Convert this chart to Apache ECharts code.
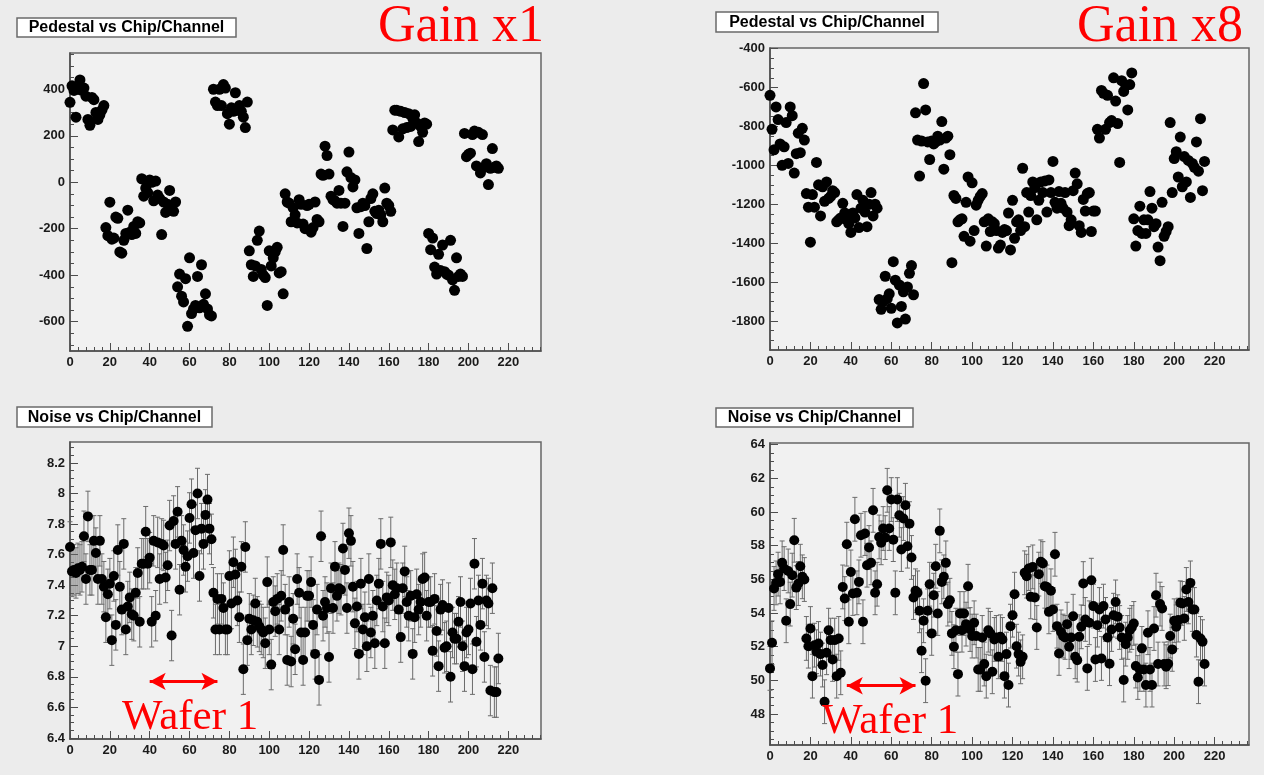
<!DOCTYPE html>
<html><head><meta charset="utf-8">
<script src="https://cdn.jsdelivr.net/npm/echarts@6/dist/echarts.min.js"></script>
<style>html,body{margin:0;padding:0;background:#eeeeee;}#c{width:1264px;height:775px;}</style>
</head><body><div id="c"></div>
<script>
// ---------------- data ----------------
const N_CHANNELS = 216;
const PED_X1 = [
 344,415,395,280,400,440,395,405,370,270,245,365,355,300,270,290,310,330,
 -195,-230,-86,-245,-240,-150,-155,-300,-305,-250,-220,-120,-215,-225,-190,-220,-170,-175,
 15,-60,-25,-45,10,0,-80,5,-55,-70,-225,-85,-130,-95,-35,-100,-125,-85,
 -450,-395,-490,-515,-415,-620,-325,-565,-545,-530,-405,-540,-355,-525,-480,-545,-570,-575,
 400,345,330,400,330,420,405,295,250,320,305,385,310,330,305,280,235,345,
 -295,-355,-405,-360,-250,-210,-375,-400,-410,-530,-295,-360,-325,-300,-280,-390,-385,-480,
 -50,-85,-90,-170,-110,-140,-175,-75,-95,-180,-200,-100,-95,-215,-195,-85,-160,-170,
 35,30,155,115,35,-60,-75,-80,-90,-35,-90,-190,-90,45,130,20,-20,10,
 -110,-220,-105,-90,-100,-285,-170,-70,-50,-125,-135,-120,-140,-170,-25,-90,-100,-125,
 225,310,310,195,305,230,300,235,295,240,275,290,255,175,240,215,255,250,
 -220,-290,-240,-365,-395,-310,-380,-270,-385,-395,-400,-250,-420,-465,-325,-405,-395,-405,
 210,110,120,125,205,220,70,215,40,205,65,80,-10,60,145,65,70,60
];
const PED_X8 = [
 -640,-815,-920,-700,-765,-890,-1000,-905,-780,-990,-700,-745,-1040,-940,-835,-935,-810,-870,
 -1145,-1215,-1395,-1150,-1215,-985,-1100,-1260,-1110,-1185,-1085,-1170,-1160,-1130,-1140,-1290,-1280,-1270,
 -1195,-1245,-1280,-1300,-1345,-1245,-1270,-1150,-1320,-1220,-1180,-1240,-1315,-1200,-1140,-1260,-1200,-1220,
 -1690,-1740,-1700,-1570,-1685,-1660,-1735,-1495,-1590,-1810,-1615,-1725,-1650,-1790,-1625,-1555,-1515,-1665,
 -730,-870,-1055,-875,-580,-715,-880,-970,-875,-890,-880,-850,-870,-775,-1020,-860,-850,-945,
 -1500,-1155,-1170,-1290,-1280,-1275,-1365,-1190,-1060,-1390,-1090,-1335,-1205,-1180,-1160,-1145,-1290,-1415,
 -1275,-1340,-1290,-1300,-1335,-1425,-1410,-1345,-1330,-1335,-1245,-1435,-1180,-1375,-1290,-1280,-1335,-1015,
 -1315,-1140,-1240,-1155,-1085,-1115,-1280,-1180,-1085,-1140,-1080,-1240,-1075,-1140,-980,-1190,-1220,-1135,
 -1195,-1220,-1140,-1240,-1310,-1280,-1130,-1040,-1095,-1310,-1345,-1175,-1235,-1145,-1140,-1340,-1235,-1235,
 -815,-860,-615,-630,-815,-640,-780,-770,-550,-670,-785,-985,-565,-620,-590,-715,-585,-525,
 -1275,-1415,-1335,-1210,-1350,-1280,-1350,-1280,-1135,-1220,-1315,-1300,-1420,-1490,-1190,-1365,-1340,-1315,
 -780,-1140,-965,-930,-1060,-855,-1110,-955,-1085,-975,-1165,-990,-1010,-880,-1030,-760,-1130,-980
];
const NOISE_X1 = [
 7.65,7.49,7.50,7.48,7.51,7.50,7.52,7.72,7.44,7.85,7.50,7.50,
 7.69,7.61,7.44,7.69,7.44,7.39,7.19,7.34,7.41,7.04,7.46,7.14,
 7.63,7.39,7.24,7.67,7.11,7.26,7.32,7.21,7.20,7.35,7.48,7.16,
 7.54,7.54,7.75,7.54,7.58,7.16,7.69,7.20,7.68,7.44,7.67,7.66,
 7.45,7.53,7.79,7.07,7.82,7.67,7.88,7.37,7.69,7.63,7.52,7.59,
 7.84,7.93,7.61,7.76,8.00,7.46,7.77,7.67,7.86,7.96,7.77,7.70,
 7.35,7.11,7.31,7.11,7.31,7.25,7.11,7.11,7.46,7.28,7.55,7.47,
 7.30,7.19,7.52,6.85,7.65,7.04,7.18,7.11,7.17,7.28,7.16,7.13,
 7.11,7.09,7.02,7.42,7.11,6.88,7.29,7.23,7.31,7.11,7.33,7.63,
 7.24,6.91,7.29,6.90,7.18,6.98,7.44,7.35,7.09,6.91,7.09,7.33,
 7.33,7.42,7.14,6.95,7.24,6.78,7.72,7.20,7.29,7.25,6.93,7.38,
 7.25,7.52,7.33,7.38,7.37,7.64,7.50,7.25,7.74,7.69,7.39,7.15,
 7.26,6.95,7.41,7.11,7.19,7.00,7.44,7.09,7.20,7.02,7.30,7.41,
 7.67,7.26,7.02,7.32,7.30,7.68,7.40,7.34,7.38,7.24,7.06,7.38,
 7.49,7.29,7.20,7.33,6.95,7.19,7.34,7.24,7.29,7.44,7.45,7.20,
 7.29,7.29,6.97,7.31,7.10,6.87,7.24,7.27,6.99,7.00,7.25,6.80,
 7.09,7.05,7.05,7.16,7.29,7.00,6.87,7.09,7.11,7.28,6.85,7.54,
 7.03,7.30,7.14,7.41,6.93,7.30,7.28,6.71,7.38,6.70,6.70,6.92
];
const NOISE_X8 = [
 50.71,52.23,55.46,55.79,56.31,55.85,56.98,56.64,53.54,56.50,54.53,56.25,
 58.32,55.51,55.75,56.78,56.15,55.99,52.49,52.03,53.08,50.25,52.09,51.70,
 52.19,51.56,50.91,48.73,51.64,52.98,52.39,51.24,52.39,50.25,52.49,50.45,
 55.55,54.86,58.09,53.48,56.44,55.16,59.57,55.20,55.85,58.62,53.48,58.72,
 56.84,57.89,56.98,60.10,55.20,55.71,58.52,58.17,59.02,58.48,61.29,59.02,
 60.74,58.36,55.20,60.74,59.81,57.77,59.61,60.40,57.97,59.31,57.30,54.92,
 55.32,55.20,54.13,51.76,53.54,49.98,54.13,55.71,52.79,55.06,56.78,53.97,
 58.88,55.85,56.15,56.98,54.53,54.76,52.79,52.00,52.98,50.37,53.97,52.98,
 53.97,53.34,55.59,53.02,52.63,53.42,52.63,50.65,50.65,52.55,50.97,50.25,
 52.98,52.79,50.51,52.43,52.55,51.40,52.59,52.43,50.25,51.56,49.72,53.22,
 53.87,55.12,52.03,51.56,51.10,51.40,56.39,56.19,56.64,54.96,56.74,54.92,
 53.14,56.31,57.04,56.94,55.59,55.55,54.07,55.32,54.21,57.49,53.22,51.60,
 52.88,52.63,52.55,53.34,52.00,52.55,53.81,51.40,51.20,52.59,53.18,55.75,
 53.62,50.71,53.42,55.95,54.41,51.24,53.28,54.21,51.30,54.41,53.62,52.55,
 50.99,53.02,53.87,54.66,53.78,53.14,52.55,50.02,52.15,52.55,52.98,53.14,
 53.38,50.85,50.17,50.65,51.90,50.65,49.72,52.83,50.65,49.72,53.08,55.06,
 50.97,54.53,54.27,50.97,50.81,50.99,52.63,51.84,53.54,53.18,53.58,54.61,
 54.57,53.68,55.40,54.66,55.79,54.21,54.21,52.69,49.92,52.49,52.30,50.97
];
const NOISE_X1_ERR = 0.165;   // read half-length of the error bars
const NOISE_X8_ERR = 1.3;

const X_TICKS = [0,20,40,60,80,100,120,140,160,180,200,220];
const PED_X1_TICKS = [-600,-400,-200,0,200,400];
const PED_X8_TICKS = [-1800,-1600,-1400,-1200,-1000,-800,-600,-400];
const NOISE_X1_TICKS = [6.4,6.6,6.8,7,7.2,7.4,7.6,7.8,8,8.2];
const NOISE_X8_TICKS = [48,50,52,54,56,58,60,62,64];

const TITLES = ['Pedestal vs Chip/Channel','Pedestal vs Chip/Channel','Noise vs Chip/Channel','Noise vs Chip/Channel'];
const GAIN_LABELS = ['Gain x1','Gain x8'];
const WAFER_LABEL = 'Wafer 1';
const WAFER_ARROWS = [[40,74,6.77],[38,72,49.68]]; // [from channel, to channel, y]

// ---------------- layout ----------------
const PANELS = [
 {left:70, top:53, width:471, height:298, xMax:236.4, yMin:-726, yMax:556, ticks:PED_X1_TICKS, minor:50, data:PED_X1, size:11},
 {left:770, top:48, width:479, height:302, xMax:237, yMin:-1949, yMax:-397, ticks:PED_X8_TICKS, minor:50, data:PED_X8, size:11},
 {left:70, top:442, width:471, height:297, xMax:236.4, yMin:6.393, yMax:8.337, ticks:NOISE_X1_TICKS, minor:0.05, data:NOISE_X1, err:NOISE_X1_ERR, size:10, arrow:WAFER_ARROWS[0]},
 {left:770, top:443, width:479, height:302, xMax:237, yMin:46.16, yMax:64.1, ticks:NOISE_X8_TICKS, minor:0.5, data:NOISE_X8, err:NOISE_X8_ERR, size:10, arrow:WAFER_ARROWS[1]}
];
function steps(min,max,step){const out=[];const s=Math.ceil(min/step-1e-9);for(let k=s;k*step<=max+1e-9;k++)out.push(+(k*step).toFixed(6));return out;}

const AX = '#4d4d4d';
const labelFont = {fontFamily:'"Liberation Sans", Arial, sans-serif', fontWeight:'bold', fontSize:13, color:'#1a1a1a'};
const grids=[], xAxes=[], yAxes=[], series=[];
PANELS.forEach((p,i)=>{
  grids.push({left:p.left, top:p.top, width:p.width, height:p.height, show:true, backgroundColor:'#f1f1f1', borderColor:'#666', borderWidth:1.5, containLabel:false});
  const xMinor = steps(0,p.xMax,4), yMinor = steps(p.yMin,p.yMax,p.minor);
  xAxes.push({type:'value', gridIndex:i, position:'bottom', min:0, max:p.xMax,
    axisLine:{show:true,onZero:false,lineStyle:{color:AX,width:1.5}},
    axisTick:{show:true,inside:true,length:8,customValues:X_TICKS,lineStyle:{color:AX,width:1}},
    axisLabel:{show:true,margin:5,customValues:X_TICKS,formatter:v=>String(v),...labelFont},
    splitLine:{show:false}});
  yAxes.push({type:'value', gridIndex:i, position:'left', min:p.yMin, max:p.yMax,
    axisLine:{show:true,onZero:false,lineStyle:{color:AX,width:1.5}},
    axisTick:{show:true,inside:true,length:8,customValues:p.ticks,lineStyle:{color:AX,width:1}},
    axisLabel:{show:true,margin:5,customValues:p.ticks,formatter:v=>String(+v.toFixed(4)),...labelFont},
    splitLine:{show:false}});
  xAxes.push({type:'value', gridIndex:i, position:'bottom', min:0, max:p.xMax,
    axisLine:{show:false,onZero:false}, axisLabel:{show:false}, splitLine:{show:false},
    axisTick:{show:true,inside:true,length:4,customValues:xMinor,lineStyle:{color:AX,width:1}}});
  yAxes.push({type:'value', gridIndex:i, position:'left', min:p.yMin, max:p.yMax,
    axisLine:{show:false,onZero:false}, axisLabel:{show:false}, splitLine:{show:false},
    axisTick:{show:true,inside:true,length:4,customValues:yMinor,lineStyle:{color:AX,width:1}}});
  const xi = 2*i, yi = 2*i;
  if (p.err !== undefined) {
    series.push({type:'custom', xAxisIndex:xi, yAxisIndex:yi, silent:true, z:2,
      data:p.data.map((v,c)=>[c, v-p.err, v+p.err]),
      encode:{x:0,y:[1,2]},
      renderItem:(params,api)=>{
        const a=api.coord([api.value(0),api.value(1)]), b=api.coord([api.value(0),api.value(2)]);
        const st={stroke:'#6b6b6b',lineWidth:1};
        return {type:'group',children:[
          {type:'line',shape:{x1:a[0],y1:a[1],x2:b[0],y2:b[1]},style:st},
          {type:'line',shape:{x1:a[0]-2.5,y1:a[1],x2:a[0]+2.5,y2:a[1]},style:st},
          {type:'line',shape:{x1:b[0]-2.5,y1:b[1],x2:b[0]+2.5,y2:b[1]},style:st}]};
      }});
  }
  const sc = {type:'scatter', xAxisIndex:xi, yAxisIndex:yi, silent:true, z:3,
    symbol:'circle', symbolSize:p.size, itemStyle:{color:'#000', opacity:1},
    data:p.data.map((v,c)=>[c,v])};
  if (p.arrow) {
    sc.markLine = {silent:true, symbol:['arrow','arrow'], symbolSize:[13,16], animation:false,
      lineStyle:{color:'#ff0000', width:3, type:'solid'}, label:{show:false},
      emphasis:{disabled:true},
      data:[[{coord:[p.arrow[0],p.arrow[2]]},{coord:[p.arrow[1],p.arrow[2]]}]]};
  }
  series.push(sc);
});

const BOXES = [
 {x:17, y:18, w:219, h:19},
 {x:716, y:12, w:222, h:20},
 {x:17, y:407, w:195, h:20},
 {x:716, y:408, w:197, h:19}
];
const graphic = [];
BOXES.forEach((b,i)=>{
  graphic.push({type:'rect', z:50, shape:{x:b.x,y:b.y,width:b.w,height:b.h}, style:{fill:'#ffffff', stroke:'#6a6a6a', lineWidth:1.5}});
  graphic.push({type:'text', z:51, x:b.x+b.w/2, y:b.y+b.h/2+0.5, style:{text:TITLES[i], font:'bold 16px "Liberation Sans", Arial, sans-serif', fill:'#000', align:'center', verticalAlign:'middle'}});
});
const serif = '"Liberation Serif", "Times New Roman", serif';
graphic.push({type:'text', z:60, x:378, y:27, style:{text:GAIN_LABELS[0], font:'52px '+serif, fill:'#ff0000', align:'left', verticalAlign:'middle'}});
graphic.push({type:'text', z:60, x:1077, y:27, style:{text:GAIN_LABELS[1], font:'52px '+serif, fill:'#ff0000', align:'left', verticalAlign:'middle'}});
graphic.push({type:'text', z:60, x:122, y:718, style:{text:WAFER_LABEL, font:'43px '+serif, fill:'#ff0000', align:'left', verticalAlign:'middle'}});
graphic.push({type:'text', z:60, x:822, y:722, style:{text:WAFER_LABEL, font:'43px '+serif, fill:'#ff0000', align:'left', verticalAlign:'middle'}});

const chart = echarts.init(document.getElementById('c'), null, {renderer:'canvas'});
chart.setOption({
  animation:false,
  backgroundColor:'#ececec',
  grid:grids, xAxis:xAxes, yAxis:yAxes, series:series, graphic:graphic
});
</script></body></html>
